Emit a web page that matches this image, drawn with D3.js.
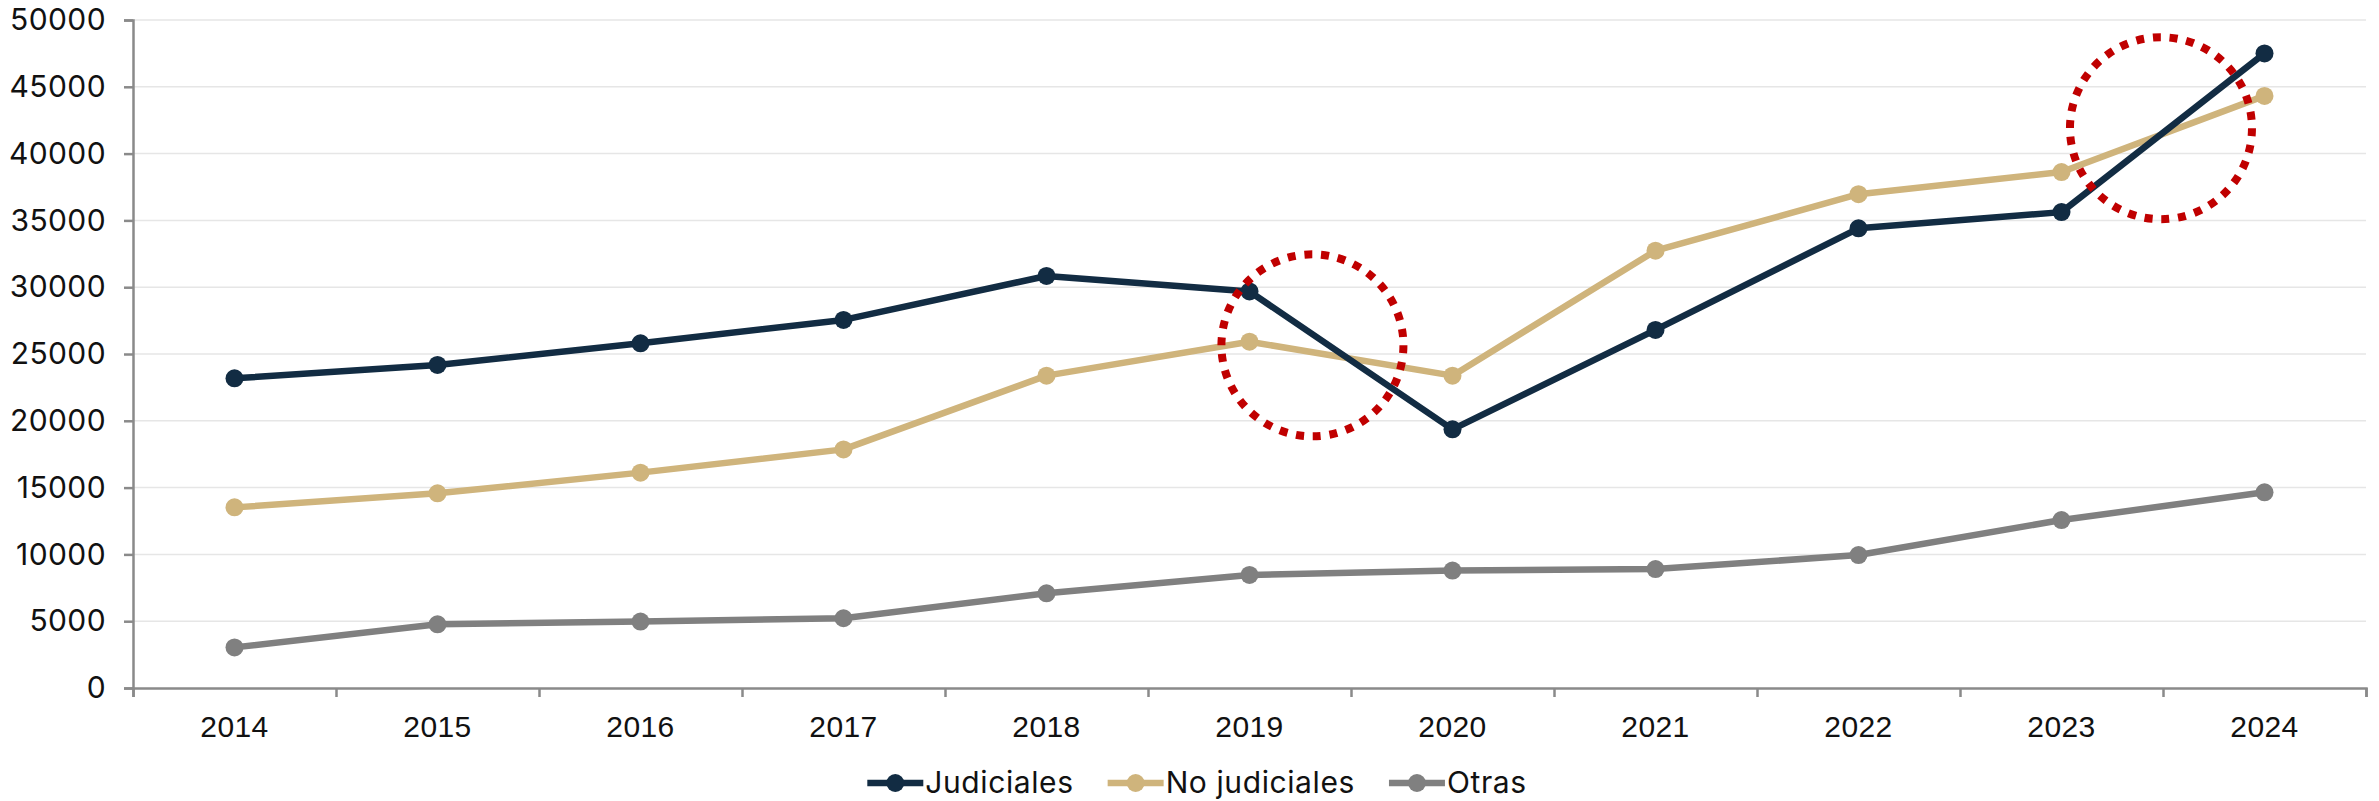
<!DOCTYPE html>
<html>
<head>
<meta charset="utf-8">
<script src="https://cdn.jsdelivr.net/npm/d3@7"></script>
<style>
    html, body { margin: 0; padding: 0; background: #fff; }
    svg { display: block; font-family: Inter, "Noto Sans", sans-serif; }
</style>
</head>
<body>
<div class="vis-linechart"></div>
<script>
const years = ["2014","2015","2016","2017","2018","2019","2020","2021","2022","2023","2024"];
const judiciales = [23180, 24180, 25800, 27550, 30840, 29680, 19360, 26800, 34410, 35620, 47500];
const noJudiciales = [13520, 14570, 16120, 17860, 23380, 25920, 23380, 32730, 36960, 38620, 44320];
const otras = [3040, 4770, 4970, 5220, 7090, 8460, 8790, 8900, 9950, 12570, 14650];
const seriesNames = ["Judiciales", "No judiciales", "Otras"];
const seriesColors = ["#122c43", "#cfb47c", "#808080"];
const yTicks = [0, 5000, 10000, 15000, 20000, 25000, 30000, 35000, 40000, 45000, 50000];
// highlighted areas: position in year index + value
const highlightIdx = [5.31, 9.49];
const highlightVal = [25650, 41900];

const draw = (props) => {
    d3.select('.vis-linechart > *').remove();
    const width = props.width;
    const height = props.height;
    const margin = {top: 20, right: 13, bottom: 113, left: 133};

    const svg = d3.select('.vis-linechart')
        .append('svg')
        .attr("width", width)
        .attr("height", height);

    // band boundaries 0..11, centers at i + 0.5
    const x = d3.scaleLinear()
        .domain([0, years.length])
        .range([margin.left, width - margin.right]);
    const y = d3.scaleLinear()
        .domain([0, 50000])
        .range([height - margin.bottom, margin.top]);

    // grid
    svg.append("g")
        .selectAll("line")
        .data(yTicks.slice(1))
        .join("line")
        .attr("x1", x(0))
        .attr("x2", x(years.length))
        .attr("y1", d => y(d))
        .attr("y2", d => y(d))
        .attr("stroke", "#e6e6e6")
        .attr("stroke-width", 1.5);

    // y axis
    const yAxis = svg.append("g")
        .attr("transform", `translate(${x(0)},0)`)
        .call(d3.axisLeft(y).tickValues(yTicks).tickSize(9).tickPadding(18).tickFormat(d3.format("d")));
    yAxis.select(".domain").attr("stroke", "#8a8a8a").attr("stroke-width", 2.5);
    yAxis.selectAll(".tick line").attr("stroke", "#8a8a8a").attr("stroke-width", 2.5);
    yAxis.selectAll(".tick text")
        .attr("fill", "#111")
        .style("font-size", "30px")
        .style("letter-spacing", "0.4px")
        .style("font-family", "Inter, 'Noto Sans', sans-serif");

    // x axis: ticks on band boundaries, labels in the middle
    const xAxis = svg.append("g")
        .attr("transform", `translate(0,${y(0)})`)
        .call(d3.axisBottom(x).tickValues(d3.range(years.length + 1)).tickSize(9).tickFormat(""));
    xAxis.select(".domain").attr("stroke", "#8a8a8a").attr("stroke-width", 2.5);
    xAxis.selectAll(".tick line").attr("stroke", "#8a8a8a").attr("stroke-width", 2.5);
    xAxis.selectAll(".year")
        .data(years)
        .join("text")
        .attr("class", "year")
        .attr("x", (d, i) => x(i + 0.5))
        .attr("y", 49)
        .attr("text-anchor", "middle")
        .attr("fill", "#111")
        .style("font-size", "30px")
        .style("letter-spacing", "0.4px")
        .text(d => d);

    const allSeries = [judiciales, noJudiciales, otras];
    const line = d3.line()
        .x((d, i) => x(i + 0.5))
        .y(d => y(d));

    const seriesG = svg.append("g")
        .selectAll("g")
        .data(allSeries)
        .join("g")
        .attr("fill", (d, i) => seriesColors[i])
        .attr("stroke", (d, i) => seriesColors[i]);

    // draw bottom series first so navy stays on top
    seriesG.sort((a, b) => allSeries.indexOf(b) - allSeries.indexOf(a));

    seriesG.append("path")
        .attr("fill", "none")
        .attr("stroke-width", 6.5)
        .attr("stroke-linejoin", "round")
        .attr("d", d => line(d));

    seriesG.selectAll("circle")
        .data(d => d)
        .join("circle")
        .attr("cx", (d, i) => x(i + 0.5))
        .attr("cy", d => y(d))
        .attr("r", 9)
        .attr("stroke", "none");

    // red dotted highlight circles
    svg.append("g")
        .selectAll("circle")
        .data(highlightIdx)
        .join("circle")
        .attr("cx", d => x(d + 0.5))
        .attr("cy", (d, i) => y(highlightVal[i]))
        .attr("r", 91)
        .attr("fill", "none")
        .attr("stroke", "#c00000")
        .attr("stroke-width", 8)
        .attr("stroke-dasharray", "8 8.8");

    // legend
    const legend = svg.append("g");
    const items = legend.selectAll("g")
        .data(seriesNames)
        .join("g");
    items.append("line")
        .attr("x1", 0).attr("x2", 56)
        .attr("y1", 0).attr("y2", 0)
        .attr("stroke", (d, i) => seriesColors[i])
        .attr("stroke-width", 6.5);
    items.append("circle")
        .attr("cx", 28).attr("cy", 0).attr("r", 9)
        .attr("fill", (d, i) => seriesColors[i]);
    items.append("text")
        .attr("x", 58)
        .attr("y", 10)
        .attr("fill", "#111")
        .style("font-size", "30px")
        .style("letter-spacing", "0.6px")
        .text(d => d);

    let offset = 0;
    items.each(function () {
        d3.select(this).attr("transform", `translate(${offset},0)`);
        offset += 58 + d3.select(this).select("text").node().getComputedTextLength() + 34;
    });
    const legendWidth = offset - 34;
    legend.attr("transform", `translate(${1197 - legendWidth / 2},783)`);
}

draw({width: 2379, height: 801});
</script>
</body>
</html>
